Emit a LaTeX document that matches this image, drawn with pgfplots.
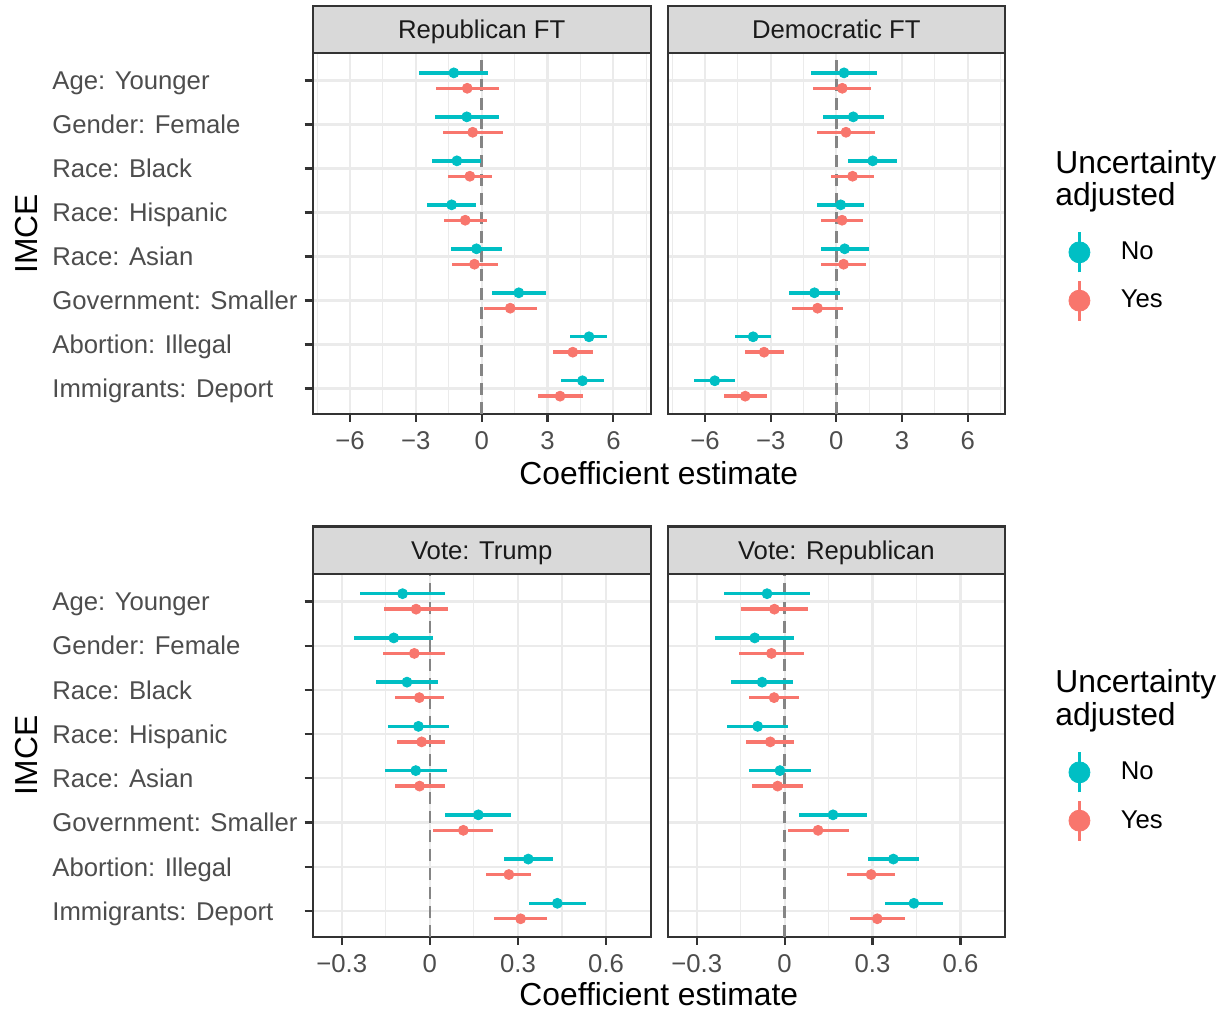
\documentclass[border=0pt]{standalone}
\usepackage{pgfplots}
\pgfplotsset{compat=1.18}
\usepackage{pgfplotstable}
\usepackage{fontspec}
\setmainfont{Liberation Sans}
\definecolor{tealc}{HTML}{00BFC4}
\definecolor{redc}{HTML}{F8766D}
\definecolor{gridc}{HTML}{EBEBEB}
\definecolor{framec}{HTML}{333333}
\definecolor{stripc}{HTML}{D9D9D9}
\definecolor{tickc}{HTML}{4D4D4D}
\definecolor{stript}{HTML}{1A1A1A}
\definecolor{zeroc}{HTML}{858585}

% cat: 8 = Age ... 1 = Immigrants
\pgfplotstableread{
cat est lo hi
8 -1.27 -2.84 0.30
7 -0.68 -2.13 0.80
6 -1.13 -2.28 -0.05
5 -1.37 -2.50 -0.24
4 -0.24 -1.39 0.94
3 1.69 0.47 2.91
2 4.89 4.01 5.73
1 4.59 3.59 5.58
}\repNo
\pgfplotstableread{
cat est lo hi
8 -0.66 -2.07 0.77
7 -0.41 -1.78 0.95
6 -0.54 -1.55 0.45
5 -0.75 -1.73 0.26
4 -0.33 -1.36 0.74
3 1.30 0.09 2.52
2 4.15 3.26 5.05
1 3.57 2.58 4.60
}\repYes
\pgfplotstableread{
cat est lo hi
8 0.35 -1.16 1.84
7 0.77 -0.62 2.19
6 1.66 0.54 2.79
5 0.20 -0.87 1.28
4 0.38 -0.71 1.48
3 -1.00 -2.16 0.17
2 -3.80 -4.63 -2.97
1 -5.55 -6.50 -4.62
}\demNo
\pgfplotstableread{
cat est lo hi
8 0.27 -1.06 1.58
7 0.44 -0.87 1.75
6 0.74 -0.23 1.72
5 0.26 -0.71 1.22
4 0.33 -0.69 1.36
3 -0.86 -2.02 0.32
2 -3.30 -4.18 -2.41
1 -4.16 -5.14 -3.17
}\demYes
\pgfplotstableread{
cat est lo hi
8 -0.093 -0.238 0.050
7 -0.123 -0.258 0.010
6 -0.078 -0.185 0.028
5 -0.039 -0.142 0.064
4 -0.048 -0.154 0.059
3 0.165 0.051 0.277
2 0.335 0.252 0.419
1 0.434 0.337 0.531
}\trumpNo
\pgfplotstableread{
cat est lo hi
8 -0.047 -0.156 0.062
7 -0.053 -0.161 0.053
6 -0.036 -0.119 0.047
5 -0.028 -0.111 0.052
4 -0.035 -0.120 0.050
3 0.114 0.012 0.215
2 0.269 0.192 0.346
1 0.309 0.220 0.398
}\trumpYes
\pgfplotstableread{
cat est lo hi
8 -0.060 -0.207 0.085
7 -0.102 -0.236 0.032
6 -0.077 -0.183 0.030
5 -0.092 -0.198 0.012
4 -0.016 -0.123 0.091
3 0.165 0.049 0.280
2 0.371 0.285 0.460
1 0.441 0.342 0.540
}\voteNo
\pgfplotstableread{
cat est lo hi
8 -0.035 -0.149 0.080
7 -0.045 -0.156 0.066
6 -0.036 -0.122 0.049
5 -0.049 -0.131 0.033
4 -0.024 -0.111 0.062
3 0.114 0.012 0.218
2 0.295 0.212 0.378
1 0.316 0.224 0.409
}\voteYes

\pgfplotsset{
  panel/.style={scale only axis, anchor=south west, clip=false,
    ymin=0.42, ymax=8.62, ytick={1,...,8},
    xtick pos=bottom, ytick pos=left,
    grid=both,
    major grid style={line width=1.1pt, gridc},
    minor grid style={line width=0.55pt, gridc},
    axis line style={line width=1.1pt, framec},
    tick align=outside, major tick length=4pt, minor tick length=0pt,
    xtick style={line width=1.1pt, framec},
    ticklabel style={font=\fontsize{12.85}{15}\selectfont, text=tickc, inner sep=0pt},
    xticklabel style={anchor=base, yshift=-13.85pt},
  },
  leftpanel/.style={yticklabels={Immigrants: Deport, Abortion: Illegal, Government: Smaller, Race: Asian, Race: Hispanic, Race: Black, Gender: Female, Age: Younger},
    ytick style={line width=1.1pt, framec},
    yticklabel style={anchor=base west, xshift=-126.35pt, yshift=-4.6pt}},
  rightpanel/.style={yticklabels={}, ymajorticks=false, ymajorgrids=true,
    legend cell align=left,
    legend style={draw=none, fill=none, inner sep=0pt, outer sep=0pt, row sep=2.5pt, column sep=15.25pt,
      font=\fontsize{12.85}{15}\selectfont, nodes={inner sep=0pt}}},
  ftpanel/.style={xmin=-7.7, xmax=7.7, xtick={-6,-3,0,3,6}, xticklabels={−6,−3,0,3,6},
    minor xtick={-7.5,-4.5,-1.5,1.5,4.5,7.5}},
  votepanel/.style={xmin=-0.399, xmax=0.752, xtick={-0.3,0,0.3,0.6}, xticklabels={−0.3,0,0.3,0.6},
    minor xtick={-0.45,-0.15,0.15,0.45,0.75}},
  nost/.style={forget plot, only marks, mark=*, mark size=2.5pt, color=tealc,
    error bars/.cd, x dir=both, x explicit, error mark=none, error bar style={line width=1.7pt, tealc}},
  yesst/.style={forget plot, only marks, mark=*, mark size=2.5pt, color=redc,
    error bars/.cd, x dir=both, x explicit, error mark=none, error bar style={line width=1.7pt, redc}},
  zerost/.style={forget plot, zeroc, line width=1.35pt, dash pattern=on 6pt off 3.5pt},
}
\newcommand{\strip}[1]{%
  \draw[fill=stripc, draw=framec, line width=1.1pt] (rel axis cs:0,1) rectangle ([yshift=23.8pt]rel axis cs:1,1);
  \node[anchor=base, inner sep=0pt, text=stript, font=\fontsize{12.85}{15}\selectfont] at ([yshift=7.3pt]rel axis cs:0.5,1) {#1};}
\newcommand{\series}[2]{%
  \addplot[zerost] coordinates {(0,0.42) (0,8.62)};
  \addplot[nost] table[x=est, y expr=\thisrow{cat}+0.175, x error plus expr=\thisrow{hi}-\thisrow{est}, x error minus expr=\thisrow{est}-\thisrow{lo}] {#1};
  \addplot[yesst] table[x=est, y expr=\thisrow{cat}-0.175, x error plus expr=\thisrow{hi}-\thisrow{est}, x error minus expr=\thisrow{est}-\thisrow{lo}] {#2};}
\newcommand{\legkeys}{%
  \addlegendimage{legend image code/.code={\draw[tealc, line width=1.65pt] (0pt,-10pt) -- (0pt,10pt); \fill[tealc] (0pt,0pt) circle (5.25pt);}}
  \addlegendentry{No}
  \addlegendimage{legend image code/.code={\draw[redc, line width=1.65pt] (0pt,-10pt) -- (0pt,10pt); \fill[redc] (0pt,0pt) circle (5.25pt);}}
  \addlegendentry{Yes}}

\begin{document}
\begin{tikzpicture}
\useasboundingbox (0pt,0pt) rectangle (612.5pt,507.5pt);

\begin{axis}[panel, leftpanel, ftpanel, at={(156.35pt,300.5pt)}, width=169pt, height=180.35pt]
\series{\repNo}{\repYes}
\strip{Republican FT}
\end{axis}

\begin{axis}[panel, rightpanel, ftpanel, at={(333.85pt,300.5pt)}, width=168.65pt, height=180.35pt,
  legend style={at={(rel axis cs:1.1883,0.5082)}, anchor=north west}]
\series{\demNo}{\demYes}
\strip{Democratic FT}
\legkeys
\end{axis}

\begin{axis}[panel, leftpanel, votepanel, at={(156.35pt,39.15pt)}, width=169pt, height=181.35pt]
\series{\trumpNo}{\trumpYes}
\strip{Vote: Trump}
\end{axis}

\begin{axis}[panel, rightpanel, votepanel, at={(333.85pt,39.15pt)}, width=168.65pt, height=181.35pt,
  legend style={at={(rel axis cs:1.1883,0.5128)}, anchor=north west}]
\series{\voteNo}{\voteYes}
\strip{Vote: Republican}
\legkeys
\end{axis}

\tikzset{ttl/.style={inner sep=0pt, font=\fontsize{15.9}{18}\selectfont}}
\node[ttl, rotate=90] at (13.5pt,390.7pt) {IMCE};
\node[ttl, rotate=90] at (13.5pt,129.8pt) {IMCE};
\node[ttl, anchor=base] at (329.4pt,265pt) {Coefficient estimate};
\node[ttl, anchor=base] at (329.4pt,4.65pt) {Coefficient estimate};
\node[ttl, anchor=base west] at (527.5pt,420.85pt) {Uncertainty};
\node[ttl, anchor=base west] at (527.5pt,404.5pt) {adjusted};
\node[ttl, anchor=base west] at (527.5pt,161pt) {Uncertainty};
\node[ttl, anchor=base west] at (527.5pt,144.5pt) {adjusted};
\end{tikzpicture}
\end{document}
